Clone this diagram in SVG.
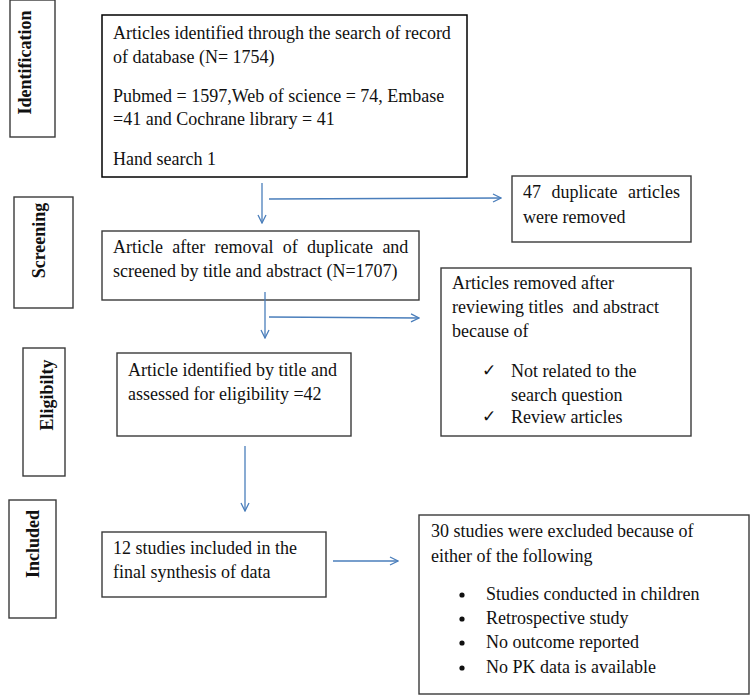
<svg xmlns="http://www.w3.org/2000/svg" width="750" height="695" viewBox="0 0 750 695">
<style>
.box{fill:#fff;stroke:#3a3a3a;stroke-width:1.4}
.box1{fill:#fff;stroke:#000;stroke-width:1.5}
.t{font-family:"Liberation Serif","Times New Roman",serif;font-size:18px;fill:#111}
.lab{font-family:"Liberation Serif","Times New Roman",serif;font-size:18px;font-weight:bold;fill:#111}
.ck{font-family:"DejaVu Sans",sans-serif;font-size:17px;fill:#111}
.c{stroke:#4a7ebb;stroke-width:1.3;fill:none}
</style>
<defs>
<marker id="ah" markerWidth="10" markerHeight="10" refX="9" refY="5" orient="auto" markerUnits="userSpaceOnUse">
<path d="M1,1 L9,5 L1,9" fill="none" stroke="#4a7ebb" stroke-width="1.3"/>
</marker>
</defs>
<rect width="750" height="695" fill="#fff"/>

<g id="label-identification">
<rect class="box" x="10" y="0" width="45" height="137"/>
<text class="lab" transform="translate(31,62.5) rotate(-90)" text-anchor="middle">Identification</text>
</g>
<g id="label-screening">
<rect class="box" x="14" y="197" width="59" height="111"/>
<text class="lab" transform="translate(45,240.5) rotate(-90)" text-anchor="middle">Screening</text>
</g>
<g id="label-eligibility">
<rect class="box" x="23" y="348" width="42" height="128"/>
<text class="lab" transform="translate(53,395) rotate(-90)" text-anchor="middle">Eligibilty</text>
</g>
<g id="label-included">
<rect class="box" x="9" y="500" width="47" height="118"/>
<text class="lab" transform="translate(39,544) rotate(-90)" text-anchor="middle">Included</text>
</g>

<g id="node-identified">
<rect class="box1" x="102" y="15" width="365" height="162"/>
<text class="t" x="113" y="39">Articles identified through the search of record</text>
<text class="t" x="113" y="63">of database (N= 1754)</text>
<text class="t" x="113" y="102">Pubmed = 1597,Web of science = 74, Embase</text>
<text class="t" x="113" y="125">=41 and Cochrane library = 41</text>
<text class="t" x="113" y="165">Hand search 1</text>
</g>

<g id="node-duplicates">
<rect class="box" x="512" y="176" width="179" height="66"/>
<text class="t" x="523" y="198" word-spacing="6">47 duplicate articles</text>
<text class="t" x="523" y="223">were removed</text>
</g>

<g id="node-screened">
<rect class="box" x="102" y="231" width="317" height="69"/>
<text class="t" x="113" y="253" word-spacing="4.8">Article after removal of duplicate and</text>
<text class="t" x="113" y="277">screened by title and abstract (N=1707)</text>
</g>

<g id="node-removed">
<rect class="box" x="441" y="268" width="250" height="168"/>
<text class="t" x="452" y="289">Articles removed after</text>
<text class="t" x="452" y="313" xml:space="preserve">reviewing titles  and abstract</text>
<text class="t" x="452" y="337">because of</text>
<text class="ck" x="482" y="376">✓</text>
<text class="t" x="511" y="377">Not related to the</text>
<text class="t" x="511" y="401">search question</text>
<text class="ck" x="482" y="422">✓</text>
<text class="t" x="511" y="423">Review articles</text>
</g>

<g id="node-eligibility">
<rect class="box" x="117" y="353" width="234" height="83"/>
<text class="t" x="128" y="376">Article identified by title and</text>
<text class="t" x="128" y="400">assessed for eligibility =42</text>
</g>

<g id="node-included">
<rect class="box" x="102" y="532" width="224" height="65"/>
<text class="t" x="113" y="554">12 studies included in the</text>
<text class="t" x="113" y="578">final synthesis of data</text>
</g>

<g id="node-excluded">
<rect class="box" x="419" y="515" width="330" height="179"/>
<text class="t" x="431" y="537">30 studies were excluded because of</text>
<text class="t" x="431" y="562">either of the following</text>
<circle cx="462" cy="595" r="2.6" fill="#111"/>
<text class="t" x="486" y="600">Studies conducted in children</text>
<circle cx="462" cy="619" r="2.6" fill="#111"/>
<text class="t" x="486" y="624">Retrospective study</text>
<circle cx="462" cy="643" r="2.6" fill="#111"/>
<text class="t" x="486" y="648">No outcome reported</text>
<circle cx="462" cy="668" r="2.6" fill="#111"/>
<text class="t" x="486" y="673">No PK data is available</text>
</g>

<g id="connectors">
<line class="c" x1="262" y1="183" x2="262" y2="223" marker-end="url(#ah)"/>
<line class="c" x1="269" y1="199" x2="501" y2="198" marker-end="url(#ah)"/>
<line class="c" x1="265" y1="292" x2="265" y2="338" marker-end="url(#ah)"/>
<line class="c" x1="269" y1="317" x2="419" y2="318" marker-end="url(#ah)"/>
<line class="c" x1="245" y1="446" x2="245" y2="511" marker-end="url(#ah)"/>
<line class="c" x1="333" y1="561" x2="398" y2="561" marker-end="url(#ah)"/>
</g>
</svg>
